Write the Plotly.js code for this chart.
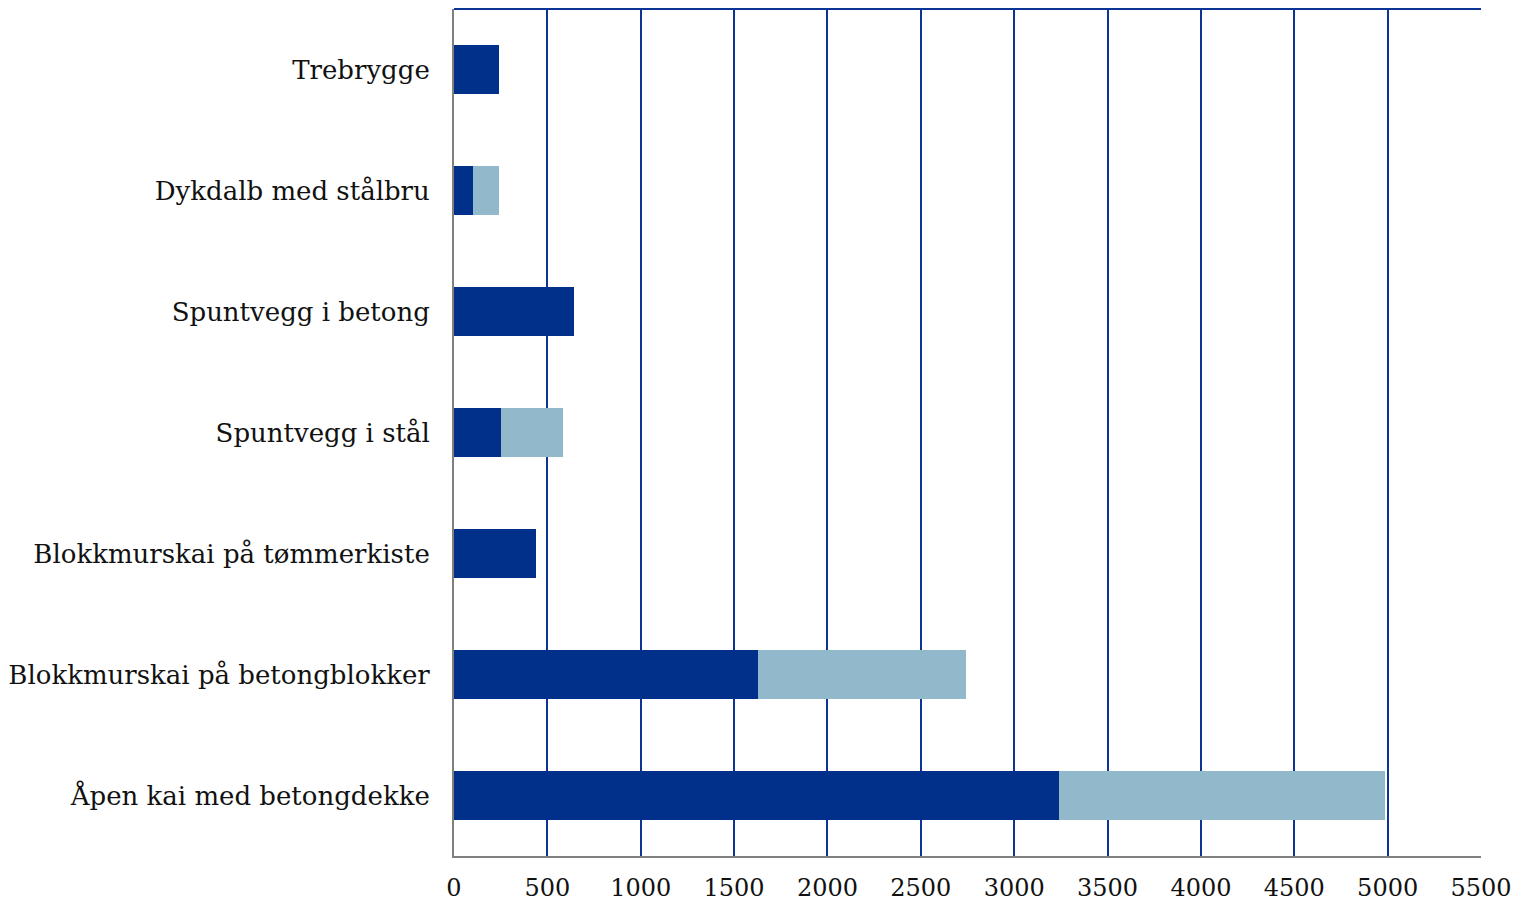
<!DOCTYPE html>
<html>
<head>
<meta charset="utf-8">
<script src="https://cdn.plot.ly/plotly-3.0.1.min.js"></script>
<style>html,body{margin:0;padding:0;background:#fff}#chart{width:1518px;height:901px}</style>
</head>
<body>
<div id="chart"></div>
<script>
const categories = [
  "Trebrygge",
  "Dykdalb med stålbru",
  "Spuntvegg i betong",
  "Spuntvegg i stål",
  "Blokkmurskai på tømmerkiste",
  "Blokkmurskai på betongblokker",
  "Åpen kai med betongdekke"
];
const seriesDark = [240, 100, 640, 250, 440, 1630, 3240];
const seriesLight = [0, 140, 0, 335, 0, 1110, 1745];
const tickVals = [0, 500, 1000, 1500, 2000, 2500, 3000, 3500, 4000, 4500, 5000, 5500];

const fontFamily = "DejaVu Serif, Liberation Serif, serif";

const traces = [
  {type: "bar", orientation: "h", y: categories, x: seriesDark,
   marker: {color: "#00308A", line: {width: 0}}, hoverinfo: "x+y", name: "A"},
  {type: "bar", orientation: "h", y: categories, x: seriesLight,
   marker: {color: "#92B8CB", line: {width: 0}}, hoverinfo: "x+y", name: "B"}
];

const layout = {
  width: 1518, height: 901,
  margin: {l: 454, r: 37, t: 9, b: 45, pad: 0},
  paper_bgcolor: "#fff", plot_bgcolor: "#fff",
  barmode: "stack", bargap: 0.6, showlegend: false,
  font: {family: fontFamily, size: 26, color: "#111"},
  xaxis: {
    range: [0, 5500], tickvals: tickVals, ticktext: tickVals.map(String),
    showgrid: true, gridcolor: "#0B3494", gridwidth: 2,
    zeroline: false, showline: true, linecolor: "#808080", linewidth: 2,
    ticks: "", ticklabelstandoff: 9,
    tickfont: {family: fontFamily, size: 24, color: "#111"}
  },
  yaxis: {
    type: "category", categoryorder: "array", categoryarray: categories,
    autorange: "reversed", showgrid: false, zeroline: false,
    showline: true, linecolor: "#808080", linewidth: 2,
    ticks: "", ticklabelstandoff: 17,
    tickfont: {family: fontFamily, size: 26, color: "#111"}
  },
  shapes: [
    {type: "line", xref: "paper", yref: "paper", x0: 0, x1: 1, y0: 1, y1: 1,
     line: {color: "#0B3494", width: 2}}
  ]
};

Plotly.newPlot("chart", traces, layout, {displayModeBar: false, staticPlot: true});
</script>
</body>
</html>
